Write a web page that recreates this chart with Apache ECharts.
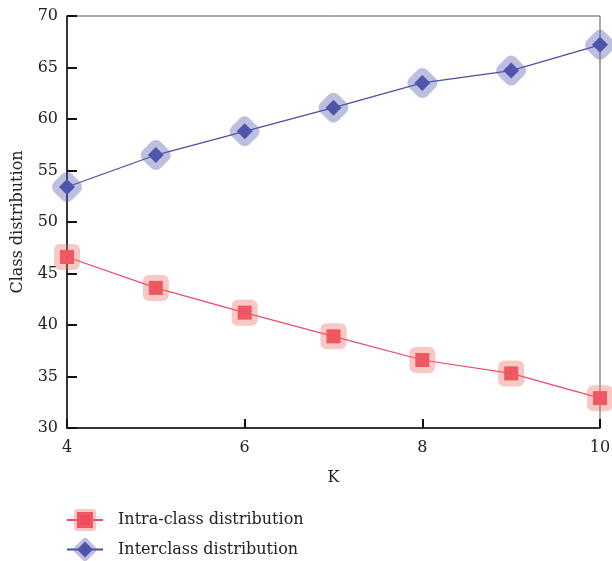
<!DOCTYPE html>
<html><head><meta charset="utf-8">
<script src="https://cdn.jsdelivr.net/npm/echarts@6/dist/echarts.min.js"></script>
<style>html,body{margin:0;padding:0;background:#fff}#c{width:612px;height:561px}</style>
</head><body><div id="c"></div>
<script>
var kValues = [4, 5, 6, 7, 8, 9, 10];
var intraClass = [46.6, 43.6, 41.2, 38.9, 36.6, 35.3, 32.9];
var interClass = [53.4, 56.5, 58.8, 61.1, 63.5, 64.7, 67.2];
var seriesNames = ['Intra-class distribution', 'Interclass distribution'];

function pairs(xs, ys){ return xs.map(function(x,i){ return [x, ys[i]]; }); }
var font = 'DejaVu Serif';
var redHalo = 'rgba(242,110,100,0.38)';
var blueHalo = 'rgba(90,95,180,0.4)';
var chart = echarts.init(document.getElementById('c'));
chart.setOption({
  animation: false,
  grid: {left: 67, right: 12, top: 16, bottom: 133, show: true, borderColor: '#555', borderWidth: 1,
         outerBoundsMode: 'none', containLabel: false},
  xAxis: {
    type: 'value', min: 4, max: 10, interval: 2,
    name: 'K', nameLocation: 'middle', nameGap: 42,
    nameTextStyle: {fontFamily: font, fontSize: 16, color: '#222'},
    axisLine: {lineStyle: {color: '#111', width: 1.5}},
    axisTick: {inside: true, length: 9, lineStyle: {color: '#111', width: 2}},
    axisLabel: {fontFamily: font, fontSize: 16, color: '#222', margin: 12},
    splitLine: {show: false}
  },
  yAxis: {
    type: 'value', min: 30, max: 70, interval: 5,
    name: 'Class distribution', nameLocation: 'middle', nameGap: 41,
    nameTextStyle: {fontFamily: font, fontSize: 16, color: '#222'},
    axisLine: {lineStyle: {color: '#111', width: 1.5}},
    axisTick: {inside: true, length: 10, lineStyle: {color: '#111', width: 2}},
    axisLabel: {fontFamily: font, fontSize: 16, color: '#222', margin: 9},
    splitLine: {show: false}
  },
  legend: {
    orient: 'vertical', left: 66, top: 509, height: 80, itemGap: 7, itemWidth: 36, itemHeight: 20, padding: 0,
    textStyle: {fontFamily: font, fontSize: 16, color: '#222', padding: [0, 0, 0, 10]},
    data: [
      {name: seriesNames[0], itemStyle: {borderColor: redHalo, borderWidth: 6, borderJoin: 'round'}},
      {name: seriesNames[1], itemStyle: {borderColor: blueHalo, borderWidth: 7, borderJoin: 'round'}}
    ]
  },
  series: [
    {
      name: seriesNames[0], type: 'line', data: pairs(kValues, intraClass), clip: false,
      symbol: 'rect', symbolSize: 14,
      lineStyle: {color: '#ee4a62', width: 1.2},
      itemStyle: {color: '#ee4a62', borderColor: redHalo, borderWidth: 12, borderJoin: 'round'}
    },
    {
      name: seriesNames[1], type: 'line', data: pairs(kValues, interClass), clip: false,
      symbol: 'diamond', symbolSize: 16,
      lineStyle: {color: '#4a4ea3', width: 1.2},
      itemStyle: {color: '#4a4ea3', borderColor: blueHalo, borderWidth: 14, borderJoin: 'round'}
    }
  ]
});
</script></body></html>
